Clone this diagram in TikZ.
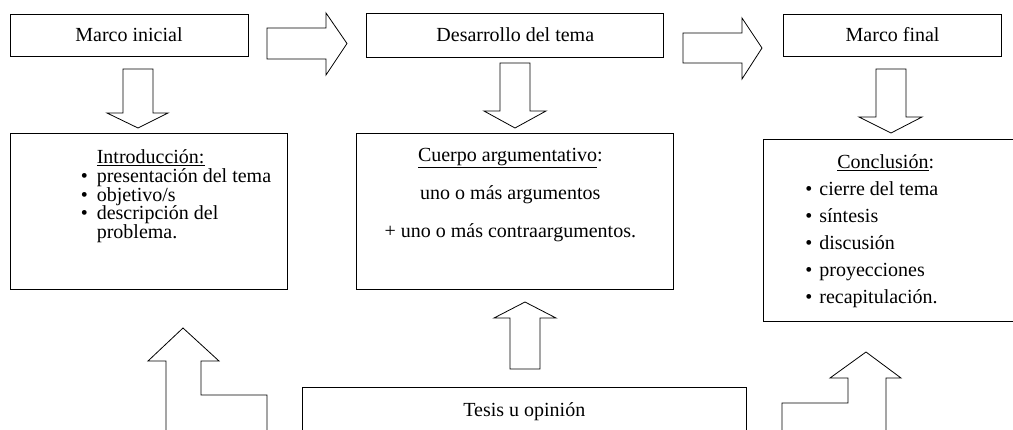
\documentclass[tikz,border=0pt]{standalone}
\usepackage{fontspec}
\setmainfont{Liberation Serif}
\usetikzlibrary{positioning}

\begin{document}
\begin{tikzpicture} [
	x=1pt, y=-1pt,
	box/.style = {
		draw=black,
		line width=0.8pt,
		inner sep=0pt,
		font=\fontsize{20}{19}\selectfont
	},
	txt/.style = {
		inner sep=0pt,
		align=left,
		font=\fontsize{20}{19}\selectfont
	},
	blockarrow/.style = {draw=black, line width=0.8pt, line join=miter}
]

\path[use as bounding box, clip] (0,0) rectangle (1013,429);

\node (inicial) [box, minimum width=238pt, minimum height=42pt] at (129,35) {Marco inicial};
\node (desarrollo) [box, minimum width=297pt, minimum height=44pt, right=118pt of inicial] {Desarrollo del tema};
\node (final) [box, minimum width=218pt, minimum height=42pt, right=119pt of desarrollo] {Marco final};

\node (intro) [box, minimum width=277pt, minimum height=156pt, below=77pt of inicial.south west, anchor=north west] {};
\node (cuerpo) [box, minimum width=317pt, minimum height=156pt, below=76pt of desarrollo] {};
\node (conclusion) [box, minimum width=250pt, minimum height=182pt, below=83pt of final, xshift=-4pt] {};
\node (tesis) [box, minimum width=444pt, minimum height=48pt, below=97pt of cuerpo, xshift=9pt] {Tesis u opinión};

\node (introtxt) [txt, font=\fontsize{20}{18.8}\selectfont, below right=16pt and 71pt of intro.north west] {
\hspace*{16pt}\underline{Introducción:}\\
\makebox[16pt][l]{•}presentación del tema\\
\makebox[16pt][l]{•}objetivo/s\\
\makebox[16pt][l]{•}descripción del\\
\hspace*{16pt}problema.
};
\node (cuerpotxt) [txt, align=center, font=\fontsize{20}{38}\selectfont, below=15pt of cuerpo.north, xshift=-5pt] {
\underline{Cuerpo argumentativo}:\\
uno o más argumentos\\
+ uno o más contraargumentos.
};
\node (conclusiontxt) [txt, font=\fontsize{20}{27}\selectfont, below right=15pt and 42pt of conclusion.north west] {
\hspace*{32pt}\underline{Conclusión}:\\
\makebox[14pt][l]{•}cierre del tema\\
\makebox[14pt][l]{•}síntesis\\
\makebox[14pt][l]{•}discusión\\
\makebox[14pt][l]{•}proyecciones\\
\makebox[14pt][l]{•}recapitulación.
};

\draw[blockarrow] (267,28) -- (326,28) -- (326,13) -- (347,43.5) -- (326,75) -- (326,59) -- (267,59) -- cycle;
\draw[blockarrow] (683,33) -- (742,33) -- (742,18) -- (762,48) -- (742,79) -- (742,63) -- (683,63) -- cycle;

\draw[blockarrow] (123,69) -- (153,69) -- (153,113) -- (168,113) -- (138,128) -- (107,113) -- (123,113) -- cycle;
\draw[blockarrow] (500,63) -- (530,63) -- (530,111) -- (546,111) -- (515,128) -- (484,111) -- (500,111) -- cycle;
\draw[blockarrow] (876,69) -- (906,69) -- (906,117) -- (922,117) -- (891,133) -- (859,117) -- (876,117) -- cycle;

\draw[blockarrow] (510,369) -- (510,318) -- (494,318) -- (525,302) -- (556,318) -- (540,318) -- (540,369) -- cycle;
\draw[blockarrow] (166,431) -- (166,361) -- (148,361) -- (183,328) -- (219,361) -- (201,361) -- (201,395) -- (267,395) -- (267,431) -- cycle;
\draw[blockarrow] (782,441) -- (782,403) -- (848,403) -- (848,378) -- (830,378) -- (866,352) -- (901,378) -- (886,378) -- (886,441) -- cycle;

\end{tikzpicture}
\end{document}
